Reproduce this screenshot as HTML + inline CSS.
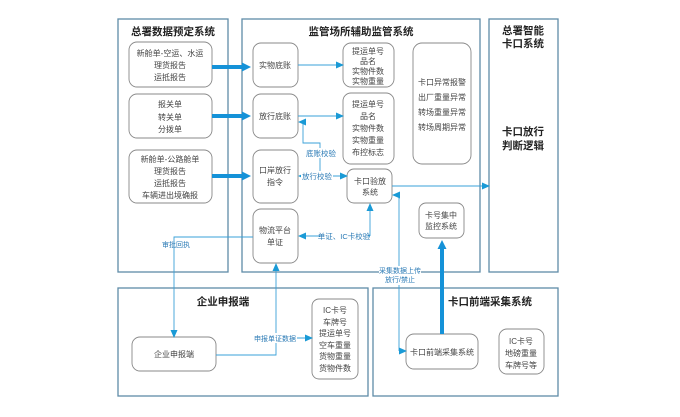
<!DOCTYPE html>
<html><head><meta charset="utf-8"><style>
body{margin:0;background:#fff}
svg{display:block}
text{font-family:"Liberation Sans","Noto Sans CJK SC",sans-serif;fill:#444;font-size:8px;text-anchor:middle}
.t{font-size:10.5px;font-weight:bold;fill:#222}
.l{fill:#2a7ab5;font-size:7.5px}
.frame{fill:none;stroke:#5f8ca8;stroke-width:1.3}
.node{fill:#fff;stroke:#888;stroke-width:0.9}
.ln{stroke:#3aa0d8;stroke-width:0.9;fill:none}
.thick{stroke:#1592d8;stroke-width:4;fill:none}
</style></head><body>
<svg width="680" height="417" viewBox="0 0 680 417" xmlns="http://www.w3.org/2000/svg">
<defs>
<marker id="a" markerWidth="8" markerHeight="8" refX="7" refY="4" orient="auto" markerUnits="userSpaceOnUse"><path d="M0,0.5 L8,4 L0,7.5z" fill="#1a9ad6"/></marker>
<marker id="b" markerWidth="10" markerHeight="10" refX="2" refY="5" orient="auto" markerUnits="userSpaceOnUse"><path d="M0,0.5 L9,5 L0,9.5z" fill="#1592d8"/></marker>
</defs>
<rect class="frame" x="118" y="19" width="110" height="253"/>
<rect class="frame" x="242" y="19" width="238" height="253"/>
<rect class="frame" x="489" y="19" width="69" height="253"/>
<rect class="frame" x="118" y="288" width="250" height="108"/>
<rect class="frame" x="373" y="288" width="185" height="108"/>
<text class="t" x="173" y="35">总署数据预定系统</text>
<text class="t" x="361" y="35">监管场所辅助监管系统</text>
<text class="t" x="523" y="34">总署智能</text>
<text class="t" x="523" y="47">卡口系统</text>
<text class="t" x="523" y="135">卡口放行</text>
<text class="t" x="523" y="149">判断逻辑</text>
<text class="t" x="223" y="305">企业申报端</text>
<text class="t" x="490" y="305">卡口前端采集系统</text>
<rect class="node" x="129" y="42" width="83" height="45" rx="8"/>
<text x="170" y="56">新舱单-空运、水运</text><text x="170" y="68">理货报告</text><text x="170" y="80">运抵报告</text>
<rect class="node" x="129" y="94" width="83" height="44" rx="8"/>
<text x="170" y="107">报关单</text><text x="170" y="120">转关单</text><text x="170" y="132">分拨单</text>
<rect class="node" x="129" y="150" width="83" height="53" rx="8"/>
<text x="170" y="162">新舱单-公路舱单</text><text x="170" y="174">理货报告</text><text x="170" y="186">运抵报告</text><text x="170" y="198">车辆进出境确报</text>
<rect class="node" x="253" y="43" width="45" height="44" rx="8"/><text x="275" y="68">实物底账</text>
<rect class="node" x="253" y="94" width="45" height="44" rx="8"/><text x="275" y="119">放行底账</text>
<rect class="node" x="253" y="150" width="45" height="53" rx="8"/><text x="275" y="173">口岸放行</text><text x="275" y="185">指令</text>
<rect class="node" x="253" y="209" width="45" height="54" rx="8"/><text x="275" y="233">物流平台</text><text x="275" y="245">单证</text>
<rect class="node" x="343" y="43" width="51" height="44" rx="8"/>
<text x="368" y="54">提运单号</text><text x="368" y="64">品名</text><text x="368" y="74">实物件数</text><text x="368" y="84">实物重量</text>
<rect class="node" x="343" y="93" width="51" height="71" rx="8"/>
<text x="368" y="107">提运单号</text><text x="368" y="119">品名</text><text x="368" y="131">实物件数</text><text x="368" y="143">实物重量</text><text x="368" y="155">布控标志</text>
<rect class="node" x="413" y="43" width="58" height="121" rx="9"/>
<text x="442" y="85">卡口异常报警</text><text x="442" y="100">出厂重量异常</text><text x="442" y="115">转场重量异常</text><text x="442" y="130">转场周期异常</text>
<rect class="node" x="347" y="169" width="45" height="34" rx="7"/><text x="370" y="184">卡口验放</text><text x="370" y="195">系统</text>
<rect class="node" x="419" y="203" width="45" height="35" rx="7"/><text x="441" y="218">卡号集中</text><text x="441" y="229">监控系统</text>
<rect class="node" x="132" y="337" width="84" height="34" rx="8"/><text x="174" y="357">企业申报端</text>
<rect class="node" x="312" y="299" width="46" height="80" rx="7"/>
<text x="335" y="313">IC卡号</text><text x="335" y="325">车牌号</text><text x="335" y="336">提运单号</text><text x="335" y="348">空车重量</text><text x="335" y="359">货物重量</text><text x="335" y="371">货物件数</text>
<rect class="node" x="406" y="334" width="72" height="35" rx="8"/><text x="442" y="355">卡口前端采集系统</text>
<rect class="node" x="499" y="329" width="45" height="45" rx="8"/><text x="521" y="344">IC卡号</text><text x="521" y="356">地磅重量</text><text x="521" y="368">车牌号等</text>
<line class="thick" x1="212" y1="67" x2="244" y2="67" marker-end="url(#b)"/>
<line class="thick" x1="212" y1="116" x2="244" y2="116" marker-end="url(#b)"/>
<line class="thick" x1="212" y1="176" x2="244" y2="176" marker-end="url(#b)"/>
<line class="thick" x1="442" y1="334" x2="442" y2="247" marker-end="url(#b)"/>
<line class="ln" x1="298" y1="65" x2="343" y2="65" marker-end="url(#a)"/>
<line class="ln" x1="298" y1="116" x2="343" y2="116" marker-end="url(#a)"/>
<path class="ln" d="M320,176 V143 H303 V122 H299" marker-end="url(#a)"/>
<rect x="306" y="148" width="32" height="10" fill="#fff"/>
<text class="l" x="321" y="156">底账校验</text>
<line class="ln" x1="320" y1="176" x2="299" y2="176" marker-end="url(#a)"/>
<line class="ln" x1="320" y1="176" x2="347" y2="176" marker-end="url(#a)"/>
<rect x="301" y="171" width="32" height="10" fill="#fff"/>
<text class="l" x="317" y="179">放行校验</text>
<line class="ln" x1="392" y1="186" x2="489" y2="186" marker-end="url(#a)"/>
<path class="ln" d="M370,236 V204" marker-end="url(#a)"/>
<path class="ln" d="M370,236 H299" marker-end="url(#a)"/>
<rect x="320" y="231" width="48" height="10" fill="#fff"/>
<text class="l" x="344" y="239">单证、IC卡校验</text>
<path class="ln" d="M253,237 H174 V337" marker-end="url(#a)"/>
<text class="l" x="176" y="247" style="font-size:7px">审批回执</text>
<path class="ln" d="M216,355 H276 V264" marker-end="url(#a)"/>
<line class="ln" x1="276" y1="338" x2="312" y2="338" marker-end="url(#a)"/>
<rect x="253" y="333" width="44" height="10" fill="#fff"/>
<text class="l" x="275" y="341" style="font-size:7px">申报单证数据</text>
<path class="ln" d="M399,351 V195 H393" marker-end="url(#a)"/>
<path class="ln" d="M399,351 H406" marker-end="url(#a)"/>
<rect x="379" y="266" width="42" height="19" fill="#fff"/>
<text class="l" x="400" y="273" style="font-size:7px">采集数据上传</text>
<text class="l" x="400" y="282" style="font-size:7px">放行/禁止</text>
</svg>
</body></html>
